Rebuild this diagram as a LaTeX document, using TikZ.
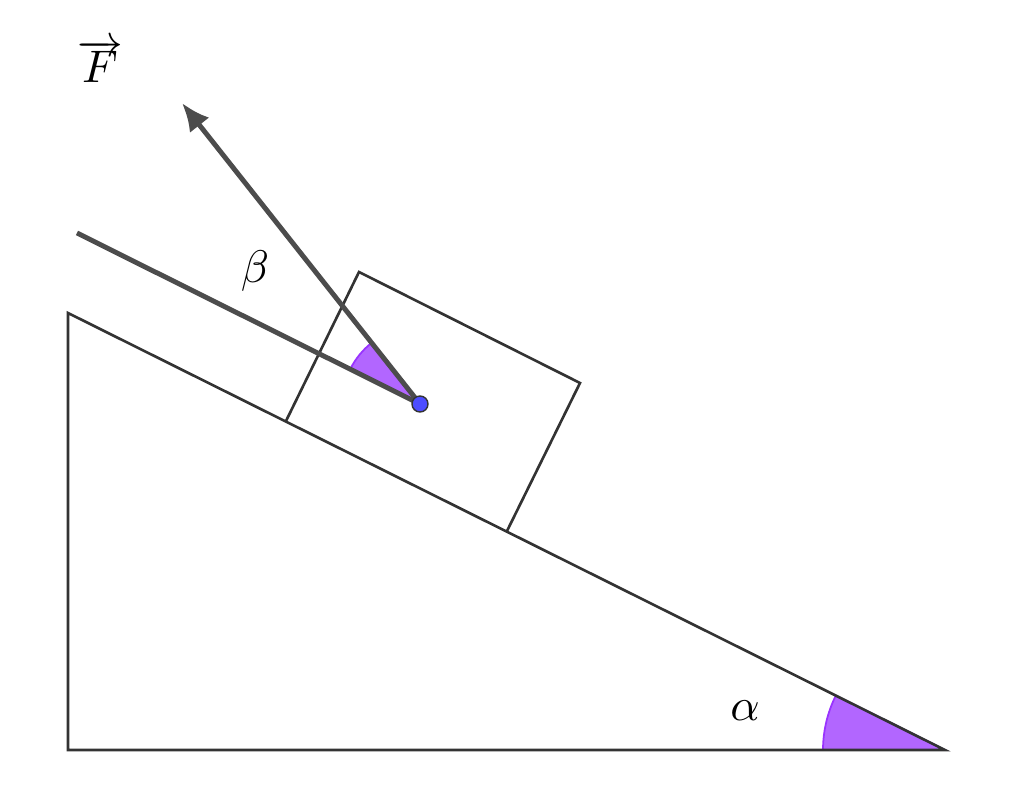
\documentclass[tikz,border=0pt]{standalone}
\usepackage{tikz}
\usetikzlibrary{arrows.meta}
\definecolor{anglefill}{RGB}{178,102,255}
\definecolor{angleline}{RGB}{153,51,255}
\definecolor{ptfill}{RGB}{77,77,255}
\tikzset{
  edgeline/.style={draw=black!80,line width=1.5pt},
  forceline/.style={draw=black!70,line width=2.8pt},
  anglesec/.style={fill=anglefill,draw=angleline,line width=1pt},
  biglabel/.style={transform shape,scale=2.6,inner sep=1pt}
}
\begin{document}
\begin{tikzpicture}[x=0.02cm,y=0.02cm]
  \useasboundingbox (0,0) rectangle (1024,811);
  % plan incline
  \coordinate (TOP) at (68,498);
  \coordinate (BASE) at (68,61);
  \coordinate (TIP) at (945,61);
  \coordinate (B1) at (286,390);
  \coordinate (B2) at (359,539);
  \coordinate (B3) at (580,428);
  \coordinate (B4) at (507,280);
  \coordinate (P) at (420,407);
  \coordinate (L) at (77,578);
  \coordinate (FEND) at (182,708);
  % angles
  \fill[anglesec] (TIP) -- ++(180:122) arc (180:153.5:122) -- cycle;
  \draw[edgeline] (TOP) -- (BASE) -- (TIP) -- cycle;
  \draw[edgeline] (B1) -- (B2) -- (B3) -- (B4);
  \fill[anglesec] (P) -- ++(153.5:78) arc (153.5:128.3:78) -- cycle;
  \draw[forceline] (P) -- (L);
  \draw[forceline,-{Latex[length=16pt,width=14pt]}] (P) -- (FEND);
  \filldraw[fill=ptfill,draw=black!80,line width=0.8pt] (P) circle (8);
  % textes
  \node[biglabel] (FLAB) at (100,750) {$\overrightarrow{F}$};
  \node[biglabel] (BETA) at (255,540) {$\beta$};
  \node[biglabel] (ALPHA) at (745,100) {$\alpha$};
\end{tikzpicture}
\end{document}
